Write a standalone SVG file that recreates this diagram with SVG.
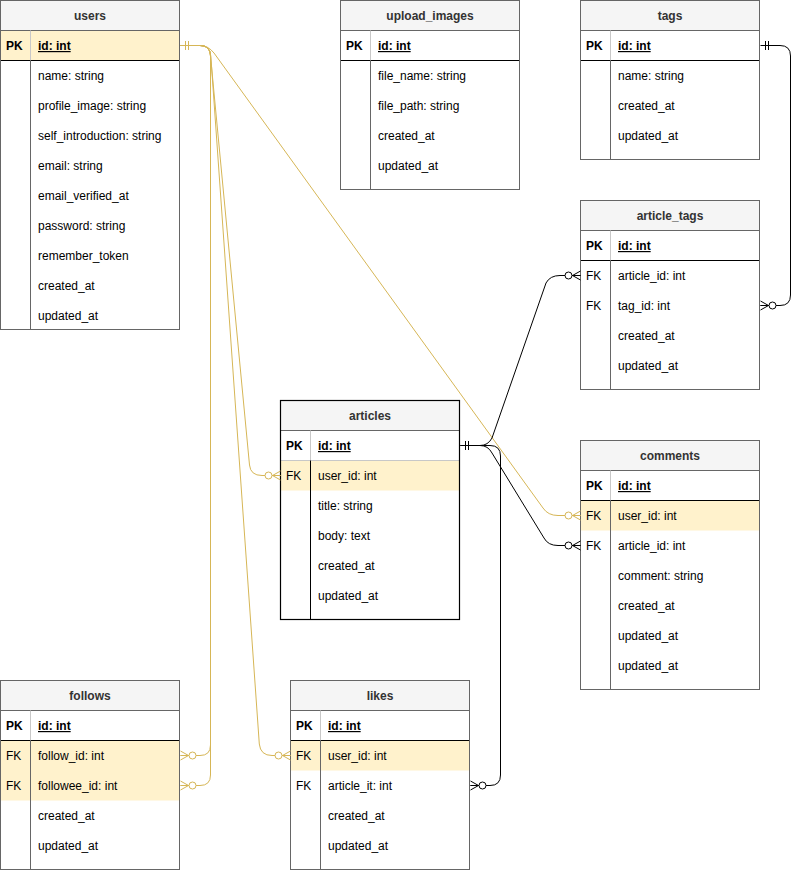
<svg xmlns="http://www.w3.org/2000/svg" width="800" height="871" viewBox="0 0 800 871">
<style>
text{font-family:"Liberation Sans",Arial,sans-serif;font-size:12px;fill:#000}
.h{font-weight:bold;fill:#333;text-anchor:middle}
.k{font-weight:bold}
.pk{font-weight:bold;text-decoration:underline}
.hd{fill:#f5f5f5;stroke:none}
.hl{fill:#fff2cc;stroke:none}
.tb{fill:none;stroke:#666;stroke-width:1}
.tbk{fill:none;stroke:#000;stroke-width:1.2}
.sep{stroke:#000;stroke-width:1}
.kd1{stroke:#c8c8c8;stroke-width:1}
.kd{stroke:#666;stroke-width:1}
.kdk{stroke:#000;stroke-width:1}
.eg{fill:none;stroke:#d6b656;stroke-width:1;marker-start:url(#oneG);marker-end:url(#manyG)}
.eb{fill:none;stroke:#000;stroke-width:1;marker-start:url(#oneB);marker-end:url(#manyB)}
</style>
<defs>
<marker id="oneG" markerUnits="userSpaceOnUse" viewBox="-20 -10 30 20" markerWidth="30" markerHeight="20" refX="0" refY="0" orient="auto-start-reverse">
<path d="M-5,-4.5V4.5M-8,-4.5V4.5" stroke="#d6b656" fill="none"/>
</marker>
<marker id="manyG" markerUnits="userSpaceOnUse" viewBox="-20 -10 30 20" markerWidth="30" markerHeight="20" refX="0" refY="0" orient="auto">
<path d="M-8,0L0,-4.5M-8,0L0,4.5M-8,0H0" stroke="#d6b656" fill="none"/>
<circle cx="-12" cy="0" r="3.5" fill="#fff" stroke="#d6b656"/>
</marker>
<marker id="oneB" markerUnits="userSpaceOnUse" viewBox="-20 -10 30 20" markerWidth="30" markerHeight="20" refX="0" refY="0" orient="auto-start-reverse">
<path d="M-5,-4.5V4.5M-8,-4.5V4.5" stroke="#000" fill="none"/>
</marker>
<marker id="manyB" markerUnits="userSpaceOnUse" viewBox="-20 -10 30 20" markerWidth="30" markerHeight="20" refX="0" refY="0" orient="auto">
<path d="M-8,0L0,-4.5M-8,0L0,4.5M-8,0H0" stroke="#000" fill="none"/>
<circle cx="-12" cy="0" r="3.5" fill="#fff" stroke="#000"/>
</marker>
</defs>

<g id="users">
<rect x="0.5" y="0.5" width="179" height="30" class="hd"/>
<rect x="0.5" y="30.5" width="179" height="30" class="hl"/>
<line x1="0.5" y1="30.5" x2="179.5" y2="30.5" class="tb"/>
<line x1="0.5" y1="60.5" x2="179.5" y2="60.5" class="sep"/>
<line x1="30.5" y1="30.5" x2="30.5" y2="60.5" class="kd1"/>
<line x1="30.5" y1="60.5" x2="30.5" y2="329.5" class="kd"/>
<rect x="0.5" y="0.5" width="179" height="329" class="tb"/>
<text x="90" y="20" class="h">users</text>
<text x="6" y="50" class="k">PK</text><text x="38" y="50" class="pk">id: int</text>
<text x="38" y="80">name: string</text>
<text x="38" y="110">profile_image: string</text>
<text x="38" y="140">self_introduction: string</text>
<text x="38" y="170">email: string</text>
<text x="38" y="200">email_verified_at</text>
<text x="38" y="230">password: string</text>
<text x="38" y="260">remember_token</text>
<text x="38" y="290">created_at</text>
<text x="38" y="320">updated_at</text>
</g>

<g id="upload_images">
<rect x="340.5" y="0.5" width="179" height="30" class="hd"/>
<line x1="340.5" y1="30.5" x2="519.5" y2="30.5" class="tb"/>
<line x1="340.5" y1="60.5" x2="519.5" y2="60.5" class="sep"/>
<line x1="370.5" y1="30.5" x2="370.5" y2="60.5" class="kd1"/>
<line x1="370.5" y1="60.5" x2="370.5" y2="189.5" class="kd"/>
<rect x="340.5" y="0.5" width="179" height="189" class="tb"/>
<text x="430" y="20" class="h">upload_images</text>
<text x="346" y="50" class="k">PK</text><text x="378" y="50" class="pk">id: int</text>
<text x="378" y="80">file_name: string</text>
<text x="378" y="110">file_path: string</text>
<text x="378" y="140">created_at</text>
<text x="378" y="170">updated_at</text>
</g>

<g id="tags">
<rect x="580.5" y="0.5" width="179" height="30" class="hd"/>
<line x1="580.5" y1="30.5" x2="759.5" y2="30.5" class="tb"/>
<line x1="580.5" y1="60.5" x2="759.5" y2="60.5" class="sep"/>
<line x1="610.5" y1="30.5" x2="610.5" y2="60.5" class="kd1"/>
<line x1="610.5" y1="60.5" x2="610.5" y2="159.5" class="kd"/>
<rect x="580.5" y="0.5" width="179" height="159" class="tb"/>
<text x="670" y="20" class="h">tags</text>
<text x="586" y="50" class="k">PK</text><text x="618" y="50" class="pk">id: int</text>
<text x="618" y="80">name: string</text>
<text x="618" y="110">created_at</text>
<text x="618" y="140">updated_at</text>
</g>

<g id="article_tags">
<rect x="580.5" y="200.5" width="179" height="30" class="hd"/>
<line x1="580.5" y1="230.5" x2="759.5" y2="230.5" class="tb"/>
<line x1="580.5" y1="260.5" x2="759.5" y2="260.5" class="sep"/>
<line x1="610.5" y1="230.5" x2="610.5" y2="260.5" class="kd1"/>
<line x1="610.5" y1="260.5" x2="610.5" y2="389.5" class="kd"/>
<rect x="580.5" y="200.5" width="179" height="189" class="tb"/>
<text x="670" y="220" class="h">article_tags</text>
<text x="586" y="250" class="k">PK</text><text x="618" y="250" class="pk">id: int</text>
<text x="586" y="280">FK</text><text x="618" y="280">article_id: int</text>
<text x="586" y="310">FK</text><text x="618" y="310">tag_id: int</text>
<text x="618" y="340">created_at</text>
<text x="618" y="370">updated_at</text>
</g>

<g id="articles">
<rect x="280.5" y="400.5" width="179" height="30" class="hd"/>
<rect x="280.5" y="460.5" width="179" height="30" class="hl"/>
<line x1="280.5" y1="430.5" x2="459.5" y2="430.5" class="tb"/>
<line x1="280.5" y1="460.5" x2="459.5" y2="460.5" class="kd1"/>
<line x1="310.5" y1="430.5" x2="310.5" y2="460.5" class="kd1"/>
<line x1="310.5" y1="460.5" x2="310.5" y2="619.5" class="kdk"/>
<rect x="280.5" y="400.5" width="179" height="219" class="tbk"/>
<text x="370" y="420" class="h">articles</text>
<text x="286" y="450" class="k">PK</text><text x="318" y="450" class="pk">id: int</text>
<text x="286" y="480">FK</text><text x="318" y="480">user_id: int</text>
<text x="318" y="510">title: string</text>
<text x="318" y="540">body: text</text>
<text x="318" y="570">created_at</text>
<text x="318" y="600">updated_at</text>
</g>

<g id="comments">
<rect x="580.5" y="440.5" width="179" height="30" class="hd"/>
<rect x="580.5" y="500.5" width="179" height="30" class="hl"/>
<line x1="580.5" y1="470.5" x2="759.5" y2="470.5" class="tb"/>
<line x1="580.5" y1="500.5" x2="759.5" y2="500.5" class="sep"/>
<line x1="610.5" y1="470.5" x2="610.5" y2="500.5" class="kd1"/>
<line x1="610.5" y1="500.5" x2="610.5" y2="689.5" class="kd"/>
<rect x="580.5" y="440.5" width="179" height="249" class="tb"/>
<text x="670" y="460" class="h">comments</text>
<text x="586" y="490" class="k">PK</text><text x="618" y="490" class="pk">id: int</text>
<text x="586" y="520">FK</text><text x="618" y="520">user_id: int</text>
<text x="586" y="550">FK</text><text x="618" y="550">article_id: int</text>
<text x="618" y="580">comment: string</text>
<text x="618" y="610">created_at</text>
<text x="618" y="640">updated_at</text>
<text x="618" y="670">updated_at</text>
</g>

<g id="follows">
<rect x="0.5" y="680.5" width="179" height="30" class="hd"/>
<rect x="0.5" y="740.5" width="179" height="60" class="hl"/>
<line x1="0.5" y1="710.5" x2="179.5" y2="710.5" class="tb"/>
<line x1="0.5" y1="740.5" x2="179.5" y2="740.5" class="sep"/>
<line x1="30.5" y1="710.5" x2="30.5" y2="740.5" class="kd1"/>
<line x1="30.5" y1="740.5" x2="30.5" y2="869.5" class="kd"/>
<rect x="0.5" y="680.5" width="179" height="189" class="tb"/>
<text x="90" y="700" class="h">follows</text>
<text x="6" y="730" class="k">PK</text><text x="38" y="730" class="pk">id: int</text>
<text x="6" y="760">FK</text><text x="38" y="760">follow_id: int</text>
<text x="6" y="790">FK</text><text x="38" y="790">followee_id: int</text>
<text x="38" y="820">created_at</text>
<text x="38" y="850">updated_at</text>
</g>

<g id="likes">
<rect x="290.5" y="680.5" width="179" height="30" class="hd"/>
<rect x="290.5" y="740.5" width="179" height="30" class="hl"/>
<line x1="290.5" y1="710.5" x2="469.5" y2="710.5" class="tb"/>
<line x1="290.5" y1="740.5" x2="469.5" y2="740.5" class="sep"/>
<line x1="320.5" y1="710.5" x2="320.5" y2="740.5" class="kd1"/>
<line x1="320.5" y1="740.5" x2="320.5" y2="869.5" class="kd"/>
<rect x="290.5" y="680.5" width="179" height="189" class="tb"/>
<text x="380" y="700" class="h">likes</text>
<text x="296" y="730" class="k">PK</text><text x="328" y="730" class="pk">id: int</text>
<text x="296" y="760">FK</text><text x="328" y="760">user_id: int</text>
<text x="296" y="790">FK</text><text x="328" y="790">article_it: int</text>
<text x="328" y="820">created_at</text>
<text x="328" y="850">updated_at</text>
</g>

<g id="connectors">
<path class="eg" d="M180.5,45.5H200Q210,45.5 210.5,56L249.5,465Q250.5,475.5 262,475.5H280.5"/>
<path class="eg" d="M180.5,45.5H200Q210,45.5 210.8,56L259.3,744Q260.5,755.5 272,755.5H290.5"/>
<path class="eg" d="M180.5,45.5H200Q210.5,45.5 210.5,56V745Q210.5,755.5 200,755.5H180.5"/>
<path class="eg" d="M180.5,45.5H200Q210.5,45.5 210.5,56V775Q210.5,785.5 200,785.5H180.5"/>
<path class="eg" d="M180.5,45.5H200Q208,45.5 214,53L543,508Q548,515.5 558,515.5H580.5"/>
<path class="eb" d="M460.5,445.5H480Q488,445.5 492,438L546,283Q550,275.5 560,275.5H580.5"/>
<path class="eb" d="M460.5,445.5H480Q488,445.5 492,453L544,538Q548,545.5 558,545.5H580.5"/>
<path class="eb" d="M460.5,445.5H490Q500.5,445.5 500.5,456V775Q500.5,785.5 490,785.5H470.5"/>
<path class="eb" d="M760.5,45.5H780Q790.5,45.5 790.5,56V295Q790.5,305.5 780,305.5H760.5"/>
</g>
</svg>
